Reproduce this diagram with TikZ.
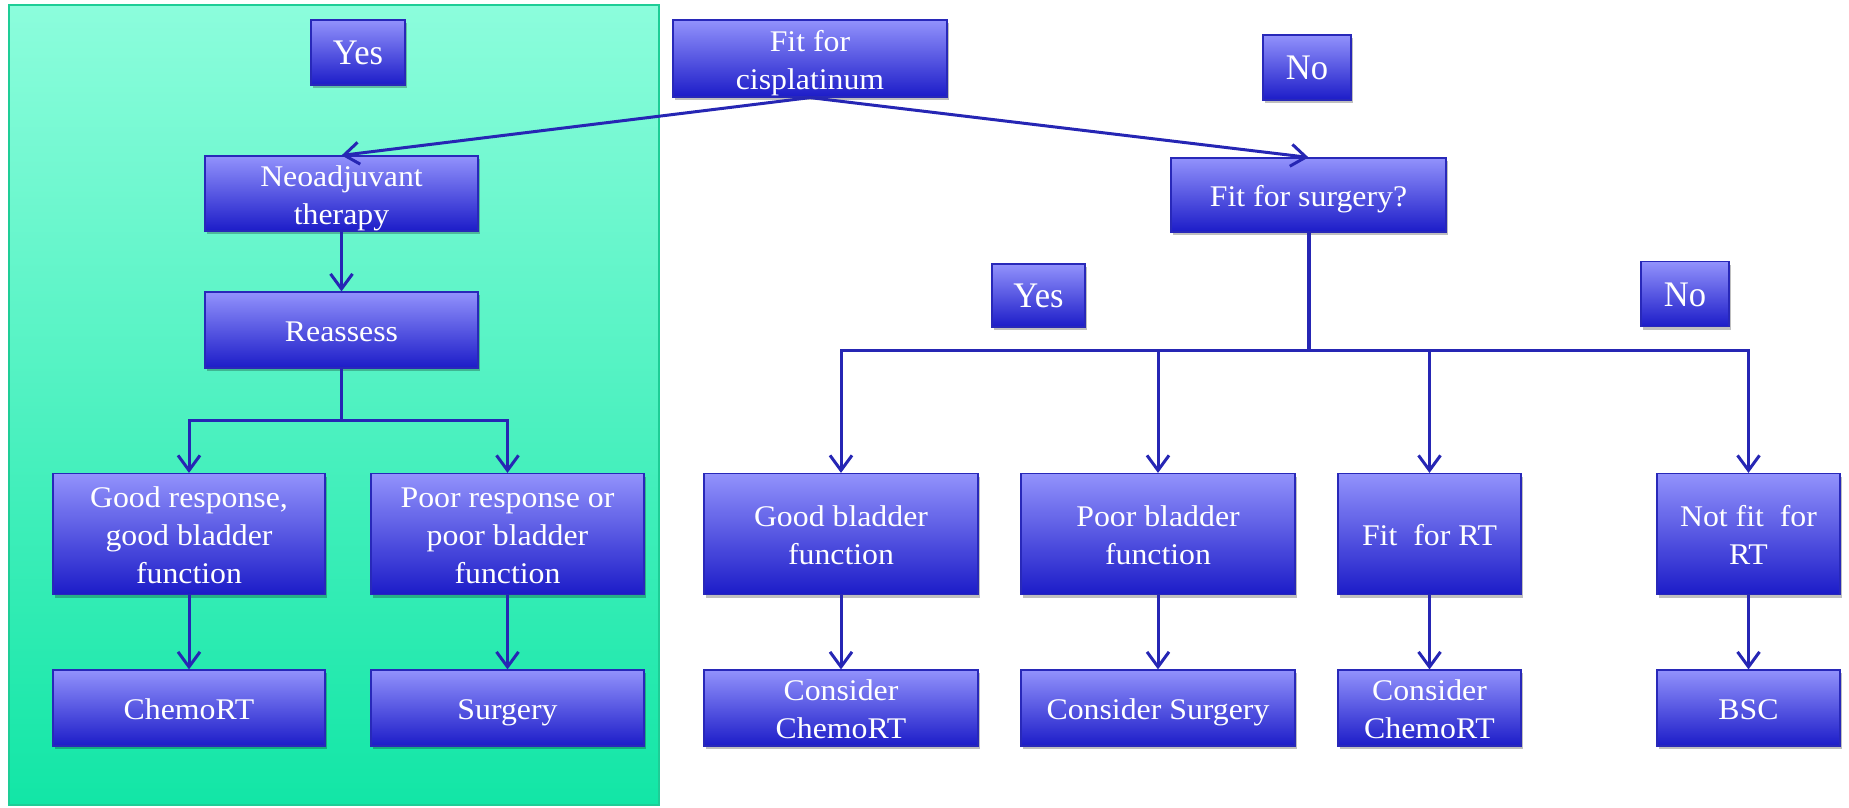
\documentclass[tikz,border=0pt]{standalone}
\usepackage{fontspec}
\setmainfont{Liberation Serif}[FakeStretch=1.06]
\newfontfamily\ansfont{Liberation Serif}[FakeStretch=0.96]
\usetikzlibrary{arrows.meta,shadows}
\definecolor{boxtop}{RGB}{146,146,252}
\definecolor{boxbot}{RGB}{28,28,200}
\definecolor{boxline}{RGB}{40,40,185}
\definecolor{linkc}{RGB}{38,38,180}
\definecolor{paneltop}{RGB}{140,253,220}
\definecolor{panelbot}{RGB}{18,230,166}
\definecolor{panelline}{RGB}{30,205,150}
% label block measured from the cap line of its first row to the baseline
% of its last row, so it centres the same way whatever its letters
\newcommand{\lbl}[1]{\raisebox{0pt}[\dimexpr\height-0.7\baselineskip+0.662em+3.4pt\relax][0pt]{%
  \begin{tabular}[b]{@{}c@{}}#1\end{tabular}}}
\newcommand{\ans}[1]{\raisebox{0pt}[0.662em][0pt]{#1}}
\tikzset{
  stepbox/.style={draw=boxline, line width=1.2pt, top color=boxtop, bottom color=boxbot,
    text=white, inner xsep=2pt, inner ysep=0pt,
    font=\fontsize{30}{37.8}\selectfont,
    drop shadow={shadow xshift=2pt, shadow yshift=-3pt, opacity=0.25, fill=black}},
  answer/.style={stepbox, font=\ansfont\fontsize{36}{40}\selectfont},
  link/.style={draw=linkc, line width=3pt, -{Straight Barb[length=15pt,width=22pt,line width=3pt]}},
  plain/.style={draw=linkc, line width=3pt}
}
\begin{document}
\begin{tikzpicture}[x=1pt,y=-1pt]
\useasboundingbox (0,0) rectangle (1849,808);
% panel for the cisplatinum-fit branch
\path[draw=panelline, line width=1.5pt, top color=paneltop, bottom color=panelbot]
  (9,5) rectangle (659,805);

% top level
\node[answer, minimum width=94pt, minimum height=65pt] (yes1) at (358,52.5) {\ans{Yes}};
\node[stepbox, minimum width=274pt, minimum height=77pt] (cis) at (810,58.5) {\lbl{Fit for\\cisplatinum}};
\node[answer, minimum width=88pt, minimum height=65pt] (no1) at (1307,67.5) {\ans{No}};

% second level
\node[stepbox, minimum width=273pt, minimum height=75pt] (neo) at (341.5,193.5) {\lbl{Neoadjuvant\\therapy}};
\node[stepbox, minimum width=275pt, minimum height=74pt] (surg) at (1308.5,195) {\lbl{Fit for surgery?}};
\node[stepbox, minimum width=273pt, minimum height=76pt] (reas) at (341.5,330) {\lbl{Reassess}};
\node[answer, minimum width=93pt, minimum height=63pt] (yes2) at (1038.5,295.5) {\ans{Yes}};
\node[answer, minimum width=88pt, minimum height=65pt] (no2) at (1685,294.2) {\ans{No}};

% decision row
\node[stepbox, minimum width=272pt, minimum height=121pt] (good) at (189,534) {\lbl{Good response,\\good bladder\\function}};
\node[stepbox, minimum width=273pt, minimum height=121pt] (poor) at (507.5,534) {\lbl{Poor response or\\poor bladder\\function}};
\node[stepbox, minimum width=274pt, minimum height=121pt] (gbl) at (841,534) {\lbl{Good bladder\\function}};
\node[stepbox, minimum width=274pt, minimum height=121pt] (pbl) at (1158,534) {\lbl{Poor bladder\\function}};
\node[stepbox, minimum width=183pt, minimum height=121pt] (frt) at (1429.5,534) {\lbl{Fit\ \ for RT}};
\node[stepbox, minimum width=183pt, minimum height=121pt] (nfrt) at (1748.5,534) {\lbl{Not fit\ \ for\\RT}};

% outcomes
\node[stepbox, minimum width=272pt, minimum height=76pt] (chemo) at (189,708) {\lbl{ChemoRT}};
\node[stepbox, minimum width=273pt, minimum height=76pt] (surgery) at (507.5,708) {\lbl{Surgery}};
\node[stepbox, minimum width=274pt, minimum height=76pt] (cchemo1) at (841,708) {\lbl{Consider\\ChemoRT}};
\node[stepbox, minimum width=274pt, minimum height=76pt] (csurg) at (1158,708) {\lbl{Consider Surgery}};
\node[stepbox, minimum width=183pt, minimum height=76pt] (cchemo2) at (1429.5,708) {\lbl{Consider\\ChemoRT}};
\node[stepbox, minimum width=183pt, minimum height=76pt] (bsc) at (1748.5,708) {\lbl{BSC}};

% branch points
\coordinate (rsplit) at (341.5,420);
\coordinate (ssplit) at (1308.5,350);

% connectors
\draw[link] (cis.south) -- (neo.north);
\draw[link] (cis.south) -- (surg.north);
\draw[link] (neo.south) -- (reas.north);

\draw[plain] (reas.south) -- (rsplit);
\draw[link] (rsplit) -| (good.north);
\draw[link] (rsplit) -| (poor.north);

\draw[plain, line width=4pt] (surg.south) -- (ssplit);
\draw[link] (ssplit) -| (gbl.north);
\draw[link] (ssplit) -| (pbl.north);
\draw[link] (ssplit) -| (frt.north);
\draw[link] (ssplit) -| (nfrt.north);

\draw[link] (good.south) -- (chemo.north);
\draw[link] (poor.south) -- (surgery.north);
\draw[link] (gbl.south) -- (cchemo1.north);
\draw[link] (pbl.south) -- (csurg.north);
\draw[link] (frt.south) -- (cchemo2.north);
\draw[link] (nfrt.south) -- (bsc.north);
\end{tikzpicture}
\end{document}
